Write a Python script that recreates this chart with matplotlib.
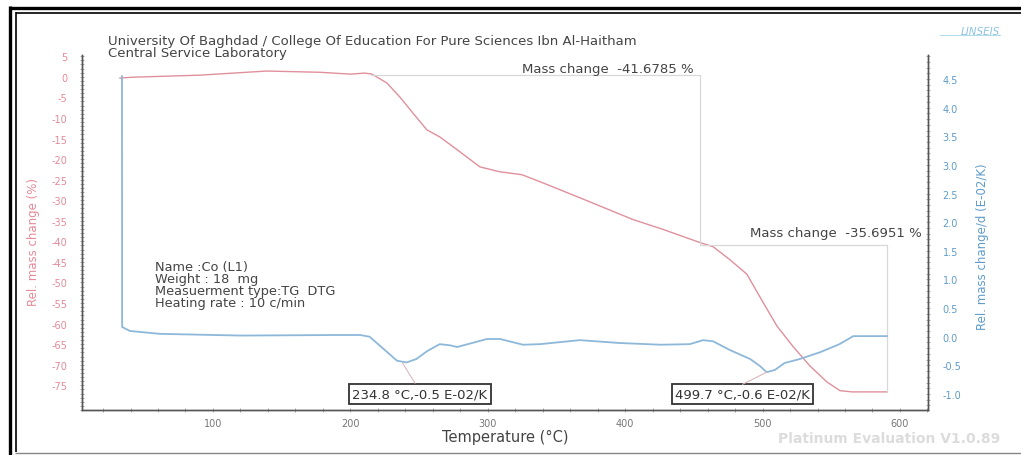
import numpy as np
import matplotlib
matplotlib.use("Agg")
import matplotlib.pyplot as plt
from matplotlib.lines import Line2D
from matplotlib.ticker import MultipleLocator, FormatStrFormatter

plt.rcParams["axes.unicode_minus"] = False

# TG curve (relative mass change, %)
tg_temp = [32.3, 41.8, 90.5, 139, 178, 200, 210.6, 215.7, 226.6, 236, 245.5, 255.7, 265,
           277.6, 294.3, 308.9, 324.9, 338, 367, 405.7, 427.6, 454.5, 464, 476, 488.6,
           500.3, 510.5, 522, 534.5, 546.9, 556.4, 565, 590.5]
tg_mass = [-0.3, -0.1, 0.4, 1.4, 1.1, 0.65, 0.9, 0.65, -1.5, -4.9, -8.8, -12.9, -14.6,
           -17.7, -21.9, -23.1, -23.8, -25.5, -29.4, -34.7, -37.1, -40.3, -41.3, -44.4, -48,
           -54.8, -60.6, -65.5, -70.3, -74.2, -76.3, -76.6, -76.6]

# DTG curve (E-02/K)
dtg_temp = [33.8, 33.9, 39.6, 61.4, 120, 192, 207, 214, 224, 234, 241, 248, 256, 265,
            272.5, 277.7, 299.4, 309, 325.6, 338, 367, 396, 426, 447, 456.7, 464, 476,
            491, 498, 503, 509, 516, 527, 542, 556, 566, 590.5]
dtg_val = [4.55, 0.17, 0.10, 0.05, 0.02, 0.03, 0.03, 0.0, -0.21, -0.42, -0.45, -0.39,
           -0.25, -0.13, -0.15, -0.18, -0.04, -0.04, -0.14, -0.13, -0.06, -0.11, -0.14,
           -0.13, -0.06, -0.08, -0.23, -0.39, -0.51, -0.62, -0.58, -0.46, -0.39, -0.27,
           -0.13, 0.01, 0.01]

# mass change brackets
step_temp = [215, 454.4, 454.4, 590.5, 590.5]
step_mass = [0.4, 0.4, -40.8, -40.8, -76.6]
mass_changes = ["Mass change  -41.6785 %", "Mass change  -35.6951 %"]

peak_labels = ["234.8 °C,-0.5 E-02/K", "499.7 °C,-0.6 E-02/K"]
peak_points = [(238, -0.46), (503, -0.62)]

info_lines = ["Name :Co (L1)", "Weight : 18  mg", "Measuerment type:TG  DTG",
              "Heating rate : 10 c/min"]

red = "#e0909c"
blue = "#8db8da"
pink_txt = "#e58a98"
blue_txt = "#5f9cc9"
txt = "#444444"

fig = plt.figure(figsize=(10.21, 4.56), dpi=100)
W, H = 1021, 456
ax1 = fig.add_axes([82 / W, 45 / H, 846 / W, 355 / H])
ax2 = ax1.twinx()

ax1.plot(tg_temp, tg_mass, color=red, lw=1.0)
ax1.plot(step_temp, step_mass, color="#d8d8d8", lw=0.9)
ax2.plot(dtg_temp, dtg_val, color=blue, lw=1.3)

ax1.set_xlim(4.7, 620.4)
ax1.set_ylim(-81, 5.3)
ax2.set_ylim(-1.28, 4.92)

for ax in (ax1, ax2):
    ax.spines["top"].set_visible(False)
    for sp in ["left", "right", "bottom"]:
        ax.spines[sp].set_color("#555555")
        ax.spines[sp].set_linewidth(1.0)

ax1.set_xticks([100, 200, 300, 400, 500, 600])
ax1.xaxis.set_minor_locator(MultipleLocator(20))
ax1.tick_params(axis="x", which="both", direction="inout", length=3, width=0.6,
                colors="#999999", labelsize=7, labelcolor="#777777", pad=4)
ax1.set_yticks(np.arange(-75, 6, 5))
ax1.yaxis.set_minor_locator(MultipleLocator(1))
ax1.tick_params(axis="y", which="both", direction="inout", length=3, width=0.5,
                colors="#888888", labelsize=7, labelcolor=pink_txt, pad=9)
ax2.set_yticks(np.arange(-1.0, 4.6, 0.5))
ax2.yaxis.set_minor_locator(MultipleLocator(0.1))
ax2.yaxis.set_major_formatter(FormatStrFormatter("%.1f"))
ax2.tick_params(axis="y", which="both", direction="inout", length=3, width=0.5,
                colors="#888888", labelsize=7, labelcolor=blue_txt, pad=9)

fig.text(505 / W, 1 - 437 / H, "Temperature (°C)", fontsize=10.5, color=txt,
         ha="center", va="center")
fig.text(33 / W, 1 - 242 / H, "Rel. mass change (%)", rotation=90, color=pink_txt,
         fontsize=8.5, ha="center", va="center")
fig.text(982 / W, 1 - 247 / H, "Rel. mass change/d (E-02/K)", rotation=90, color=blue_txt,
         fontsize=8.5, ha="center", va="center")

ax1.text(450, 2.1, mass_changes[0], fontsize=9.5, color=txt, ha="right", va="center")
ax1.text(616, -37.8, mass_changes[1], fontsize=9.5, color=txt, ha="right", va="center")

box_pos = [(250.7, -77.1), (485.4, -77.1)]
leader_ends = [(247, -0.81), (485.5, -0.83)]
for lab, (bx, by), (px, py), (lx, ly) in zip(peak_labels, box_pos, peak_points, leader_ends):
    ax2.plot([px, lx], [py, ly], color="#d9b8bc", lw=0.8)
    ax1.text(bx, by, lab, fontsize=9.5, color="#333333", ha="center", va="center",
             bbox=dict(boxstyle="square,pad=0.25", fc="white", ec="#333333", lw=1.3))

for i, line in enumerate(info_lines):
    fig.text(155 / W, 1 - (268 + 12 * i) / H, line, fontsize=9.3, color=txt,
             va="center")

fig.text(108 / W, 1 - 41 / H,
         "University Of Baghdad / College Of Education For Pure Sciences Ibn Al-Haitham",
         fontsize=9.5, color=txt, va="center")
fig.text(108 / W, 1 - 53 / H, "Central Service Laboratory", fontsize=9.5,
         color=txt, va="center")
fig.text(1000 / W, 1 - 32 / H, "LINSEIS", fontsize=7.5, style="italic", color="#8cc3e0",
         ha="right", va="center")
fig.add_artist(Line2D([940 / W, 1000 / W], [1 - 36 / H, 1 - 36 / H],
                      transform=fig.transFigure, color="#b5dbee", lw=0.8))
fig.text(1000 / W, 1 - 439 / H, "Platinum Evaluation V1.0.89", fontsize=10,
         fontweight="bold", color="#dcdcdc", ha="right", va="center")

# double frame round the picture
def fline(xs, ys, lw, c="black"):
    fig.add_artist(Line2D([x / W for x in xs], [1 - y / H for y in ys],
                          transform=fig.transFigure, color=c, lw=lw,
                          solid_capstyle="butt"))

fline([10, 1021], [8.5, 8.5], 2.4)
fline([10, 10], [7, 456], 2.4)
fline([15.5, 1021], [13.5, 13.5], 1.2)
fline([15.5, 15.5], [13, 453], 1.2)
fline([15, 1021], [453.5, 453.5], 1.0, "#888888")

fig.savefig("out.png", dpi=100)
